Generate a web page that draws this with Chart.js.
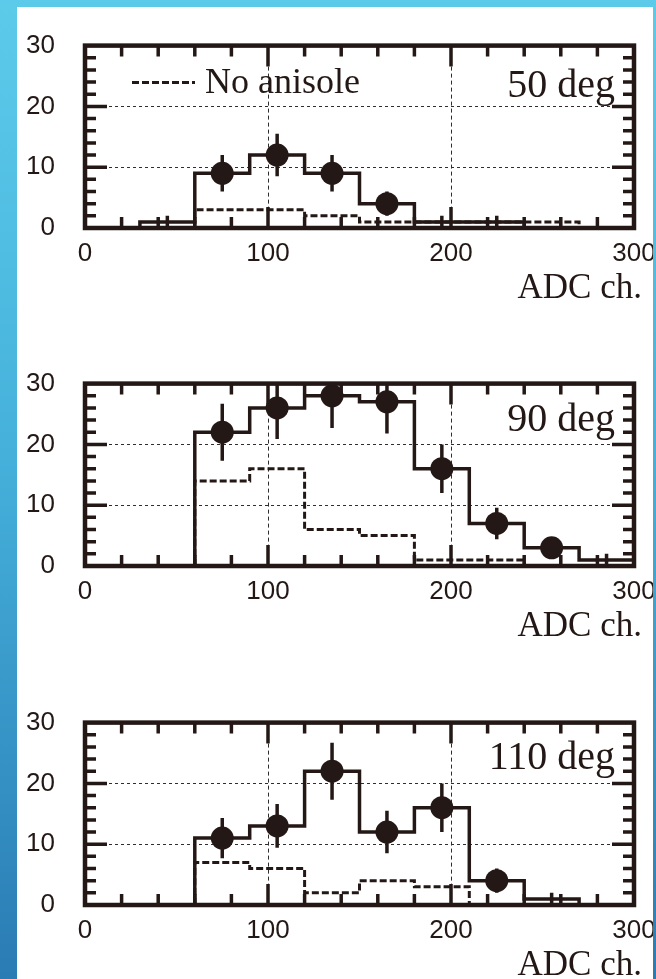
<!DOCTYPE html>
<html>
<head>
<meta charset="utf-8">
<script src="https://cdn.jsdelivr.net/npm/chart.js@4.4.0/dist/chart.umd.min.js"></script>
<style>
  html, body { margin: 0; padding: 0; }
  body {
    width: 656px; height: 979px; overflow: hidden; position: relative;
    background: linear-gradient(180deg, #5ccbea 0%, #46b2dc 45%, #2a7cb4 100%);
  }
  #sheet { position: absolute; left: 17px; top: 7px; width: 636px; height: 972px; background: #fff; }
  canvas { position: absolute; left: 0; }
</style>
</head>
<body>
<div id="sheet"></div>
<canvas id="c50" width="653" height="310" style="top:0px"></canvas>
<canvas id="c90" width="653" height="310" style="top:338px"></canvas>
<canvas id="c110" width="653" height="310" style="top:677px"></canvas>
<script>
// bins are 30 ADC channels wide, lower edges below
var binLow = [30, 60, 90, 120, 150, 180, 210, 240, 270];
var binWidth = 30;

var solid50 = [1, 9, 12, 9, 4, 1, 1, 0, 0];
var err50 = [1, 3, 3.5, 3, 2, 1, 1, 0, 0];
var dashed50 = [0, 3, 3, 2, 1, 1, 1, 1, 0];

var solid90 = [0, 22, 26, 28, 27, 16, 7, 3, 1];
var err90 = [0, 4.7, 5.1, 5.3, 5.2, 4, 2.6, 1.7, 1];
var dashed90 = [0, 14, 16, 6, 5, 1, 1, 0, 0];

var solid110 = [0, 11, 13, 22, 12, 16, 4, 1, 0];
var err110 = [0, 3.3, 3.6, 4.7, 3.5, 4, 2, 1, 0];
var dashed110 = [0, 7, 6, 2, 4, 3, 0, 0, 0];

var xTicks = [0, 100, 200, 300];
var yTicks = [0, 10, 20, 30];

var ink = "#231815";

// outline of a histogram: corners of every bin
function histPoints(values) {
    var pts = [];
    var first = -1, last = -1;
    values.forEach(function (v, i) {
        if (v > 0) {
            if (first < 0) first = i;
            last = i;
        }
    });
    pts.push({ x: binLow[first], y: 0 });
    for (var i = first; i <= last; i++) {
        pts.push({ x: binLow[i], y: values[i] });
        pts.push({ x: binLow[i] + binWidth, y: values[i] });
    }
    pts.push({ x: binLow[last] + binWidth, y: 0 });
    return pts;
}

function errorPoints(values, errors) {
    var pts = [];
    values.forEach(function (v, i) {
        if (v > 0) {
            var c = binLow[i] + binWidth / 2;
            pts.push({ x: c, y: v - errors[i] });
            pts.push({ x: c, y: v + errors[i] });
            pts.push({ x: c, y: null });
        }
    });
    return pts;
}

function markerPoints(values) {
    var pts = [];
    values.forEach(function (v, i) {
        if (v > 1) pts.push({ x: binLow[i] + binWidth / 2, y: v });
    });
    return pts;
}

function framePlugin(label, labelDy, showLegend) {
    return {
        id: "frame",
        afterDraw: function (chart) {
            var ctx = chart.ctx;
            var a = chart.chartArea;
            var xs = chart.scales.x, ys = chart.scales.y;
            ctx.save();
            ctx.strokeStyle = ink;
            ctx.fillStyle = ink;
            ctx.lineWidth = 3.5;
            ctx.beginPath();
            for (var v = 20; v < 300; v += 20) {
                var px = xs.getPixelForValue(v);
                var len = v % 100 === 0 ? 21 : 11;
                ctx.moveTo(px, a.top); ctx.lineTo(px, a.top + len);
                ctx.moveTo(px, a.bottom); ctx.lineTo(px, a.bottom - len);
            }
            for (var w = 2; w < 30; w += 2) {
                var py = ys.getPixelForValue(w);
                var l2 = w % 10 === 0 ? 22 : 11;
                ctx.moveTo(a.left, py); ctx.lineTo(a.left + l2, py);
                ctx.moveTo(a.right, py); ctx.lineTo(a.right - l2, py);
            }
            ctx.stroke();
            ctx.lineWidth = 4.5;
            ctx.strokeRect(a.left, a.top, a.right - a.left, a.bottom - a.top);

            ctx.textBaseline = "alphabetic";
            ctx.font = '40px "Liberation Serif"';
            ctx.textAlign = "right";
            ctx.fillText(label, a.right - 19, a.top + labelDy);

            ctx.font = '35px "Liberation Serif"';
            ctx.fillText("ADC ch.", a.right + 8, a.bottom + 70);

            if (showLegend) {
                ctx.lineWidth = 3;
                ctx.setLineDash([7, 3]);
                ctx.beginPath();
                ctx.moveTo(a.left + 47, a.top + 37);
                ctx.lineTo(a.left + 110, a.top + 37);
                ctx.stroke();
                ctx.setLineDash([]);
                ctx.font = '36px "Liberation Serif"';
                ctx.textAlign = "left";
                ctx.fillText("No anisole", a.left + 120, a.top + 47);
            }
            ctx.restore();
        }
    };
}

function makePanel(id, solid, errors, dashed, label, labelDy, showLegend) {
    var ctx = document.getElementById(id).getContext("2d");
    return new Chart(ctx, {
        type: "line",
        data: {
            datasets: [
                {
                    label: "markers",
                    data: markerPoints(solid),
                    showLine: false,
                    pointRadius: 11.5,
                    pointBackgroundColor: ink,
                    pointBorderWidth: 0,
                },
                {
                    label: "errors",
                    data: errorPoints(solid, errors),
                    borderColor: ink,
                    borderWidth: 3.5,
                    pointRadius: 0,
                    spanGaps: false,
                },
                {
                    label: "with anisole",
                    data: histPoints(solid),
                    borderColor: ink,
                    borderWidth: 3.5,
                    pointRadius: 0,
                },
                {
                    label: "No anisole",
                    data: histPoints(dashed),
                    borderColor: ink,
                    borderWidth: 3,
                    borderDash: [7, 3],
                    pointRadius: 0,
                },
            ],
        },
        options: {
            responsive: false,
            animation: false,
            layout: { padding: { top: 35, right: 19, left: 0, bottom: 0 } },
            plugins: { legend: { display: false }, tooltip: { enabled: false } },
            scales: {
                x: {
                    type: "linear",
                    min: 0,
                    max: 300,
                    afterBuildTicks: function (s) {
                        s.ticks = xTicks.map(function (v) { return { value: v }; });
                    },
                    afterFit: function (s) {
                        s.height = 82;
                        s.paddingLeft = 0;
                        s.paddingRight = 0;
                    },
                    grid: {
                        drawTicks: false,
                        lineWidth: 1,
                        color: function (c) {
                            var v = c.tick && c.tick.value;
                            return v === 100 || v === 200 ? "#2e2e2e" : "rgba(0,0,0,0)";
                        },
                    },
                    border: { display: false, dash: [4, 3] },
                    ticks: {
                        color: ink,
                        padding: 10,
                        maxRotation: 0,
                        font: { family: "Liberation Sans", size: 26 },
                    },
                },
                y: {
                    min: 0,
                    max: 30,
                    afterBuildTicks: function (s) {
                        s.ticks = yTicks.map(function (v) { return { value: v }; });
                    },
                    afterFit: function (s) {
                        s.width = 85;
                    },
                    grid: {
                        drawTicks: false,
                        lineWidth: 1,
                        color: function (c) {
                            var v = c.tick && c.tick.value;
                            return v === 10 || v === 20 ? "#2e2e2e" : "rgba(0,0,0,0)";
                        },
                    },
                    border: { display: false, dash: [3, 3] },
                    ticks: {
                        color: ink,
                        padding: 30,
                        font: { family: "Liberation Sans", size: 26 },
                    },
                },
            },
        },
        plugins: [framePlugin(label, labelDy, showLegend)],
    });
}

makePanel("c50", solid50, err50, dashed50, "50 deg", 51, true);
makePanel("c90", solid90, err90, dashed90, "90 deg", 47, false);
makePanel("c110", solid110, err110, dashed110, "110 deg", 46, false);
</script>
</body>
</html>
